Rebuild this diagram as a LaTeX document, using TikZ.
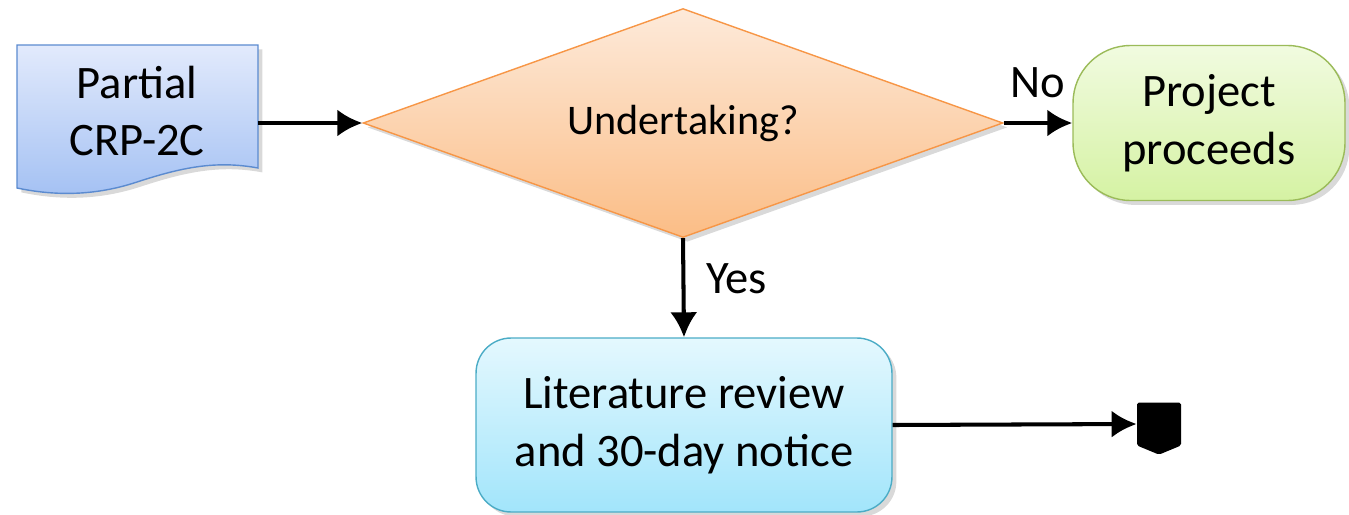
\documentclass[tikz,border=0pt]{standalone}
\usepackage{fontspec}
\setmainfont{Carlito}
\usetikzlibrary{shapes.geometric,shapes.symbols,shadows,arrows.meta}

\begin{document}
\begin{tikzpicture}[x=0.02cm,y=-0.02cm,
  >={Latex[length=0.5cm,width=0.54cm]},
  flow/.style={line width=2.3pt},
  txt/.style={font=\fontsize{26.5}{33}\selectfont, align=center},
  shade/.style={drop shadow={opacity=0.3,shadow xshift=2.5pt,shadow yshift=-2.5pt}},
  block/.style={txt, draw=#1!80!black, line width=0.8pt, shade, rounded corners=0.7cm}]
  \useasboundingbox (0,0) rectangle (1349,514);

  % document shape
  \path[draw={rgb,255:red,91;green,139;blue,208}, line width=0.8pt, shade,
    top color={rgb,255:red,226;green,234;blue,252}, bottom color={rgb,255:red,164;green,193;blue,243}]
    (17,45) -- (258,45) -- (258,168) .. controls (215,160) and (180,168) .. (137,182)
    .. controls (95,196) and (55,196) .. (17,188) -- cycle;
  \node[txt, minimum width=4.82cm] (crp) at (137,111) {Partial\\CRP-2C};

  \node[diamond, aspect=2.8, txt, font=\fontsize{24}{28}\selectfont, minimum width=12.8cm, minimum height=4.58cm,
    draw={rgb,255:red,247;green,150;blue,70}, line width=0.8pt, shade,
    top color={rgb,255:red,253;green,234;blue,218}, bottom color={rgb,255:red,251;green,189;blue,134}]
    (dec) at (683,123) {Undertaking?};

  \node[block=green, draw={rgb,255:red,155;green,187;blue,89}, rounded corners=1.15cm,
    minimum width=5.44cm, minimum height=3.1cm,
    top color={rgb,255:red,241;green,251;blue,224}, bottom color={rgb,255:red,213;green,242;blue,163}]
    (proj) at (1209,123) {Project\\proceeds};

  \node[block=cyan, draw={rgb,255:red,75;green,172;blue,198},
    minimum width=8.32cm, minimum height=3.48cm,
    top color={rgb,255:red,228;green,248;blue,254}, bottom color={rgb,255:red,162;green,229;blue,251}]
    (rev) at (684,425) {Literature review\\and 30-day notice};

  \node[signal, signal to=south, signal pointer angle=135, fill=black, rounded corners=1pt,
    minimum width=0.88cm, minimum height=0.86cm, inner sep=0pt] (off) at (1159,424) {};

  \draw[->, flow] (crp.east |- dec.west) -- (dec.west);
  \draw[->, flow] (dec.east) -- node[txt, above=0.34cm] (no) {No} (proj.west);
  \draw[->, flow] (dec.south) -- node[txt, right, xshift=0.3cm, yshift=0.18cm] (yes) {Yes} (rev.north);
  \draw[->, flow] (rev.east) -- (off.west);
\end{tikzpicture}
\end{document}
